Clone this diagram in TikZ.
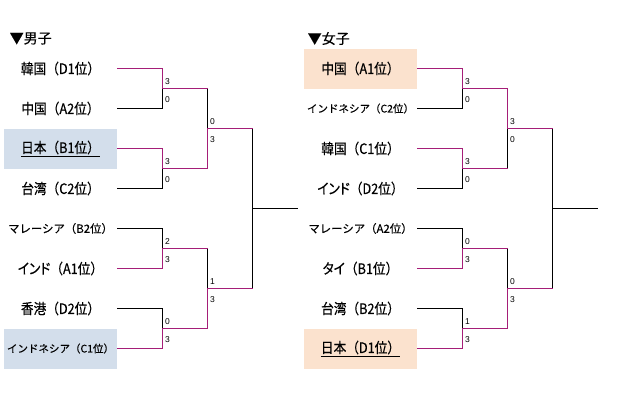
\documentclass[tikz,border=0pt]{standalone}
\usepackage{fontspec}
\setmainfont{Noto Sans CJK JP}
\newfontfamily\teamfont[FakeStretch=0.88,FakeBold=0.4]{Noto Sans CJK JP}
\newfontfamily\kp[RawFeature=+palt,FakeStretch=0.88,FakeBold=0.4]{Noto Sans CJK JP}
\newfontfamily\smallfont[FakeBold=0.3]{Noto Sans CJK JP}
\newfontfamily\numfont{Liberation Sans}
\definecolor{wincol}{RGB}{165,30,120}
\definecolor{bluebg}{RGB}{211,222,235}
\definecolor{peachbg}{RGB}{251,226,206}
\begin{document}
\begin{tikzpicture}[x=1pt,y=-1pt,
  team/.style={inner sep=0pt, minimum width=113pt, minimum height=40pt, font=\teamfont\fontsize{14.4}{15}\selectfont},
  smallteam/.style={team, font=\smallfont\fontsize{11.4}{12}\selectfont},
  tinyteam/.style={team, font=\smallfont\fontsize{10.5}{11}\selectfont},
  title/.style={inner sep=0pt, anchor=west, font=\smallfont\fontsize{14}{15}\selectfont},
  score/.style={inner sep=0pt, font=\numfont\fontsize{8.5}{9}\selectfont},
  lose/.style={draw=black, line width=1pt},
  win/.style={draw=wincol, line width=1pt}]
\useasboundingbox (0,0) rectangle (617,402);
\fill[white] (0,0) rectangle (617,402);
\begin{scope}[shift={(0.5,-0.5)}]
% titles
\node[title] (tm) at (9,39) {▼男子};
\node[title] (tw) at (307,39) {▼女子};

% men teams
\node[team] (m1) at (60,69) {韓国（D1位）};
\node[team] (m2) at (60,109) {中国（A2位）};
\node[team, fill=bluebg] (m3) at (60,149) {\underline{日本（B1位）}};
\node[team] (m4) at (60,189) {台湾（C2位）};
\node[smallteam] (m5) at (60,229) {マレーシア（B2位）};
\node[team] (m6) at (60,269) {{\kp インド}（A1位）};
\node[team] (m7) at (60,309) {香港（D2位）};
\node[tinyteam, fill=bluebg] (m8) at (60,349) {インドネシア（C1位）};

% women teams
\node[team, fill=peachbg] (w1) at (360,69) {中国（A1位）};
\node[tinyteam] (w2) at (360,109) {インドネシア（C2位）};
\node[team] (w3) at (360,149) {韓国（C1位）};
\node[team] (w4) at (360,189) {{\kp インド}（D2位）};
\node[smallteam] (w5) at (360,229) {マレーシア（A2位）};
\node[team] (w6) at (360,269) {{\kp タイ}（B1位）};
\node[team] (w7) at (360,309) {台湾（B2位）};
\node[team, fill=peachbg] (w8) at (360,349) {\underline{日本（D1位）}};

% men coordinates
\coordinate (mA) at (162,89);  \coordinate (mA2) at (207,89);
\coordinate (mB) at (162,169); \coordinate (mB2) at (207,169);
\coordinate (mC) at (162,249); \coordinate (mC2) at (207,249);
\coordinate (mD) at (162,329); \coordinate (mD2) at (207,329);
\coordinate (mE) at (207,129); \coordinate (mE2) at (252,129);
\coordinate (mF) at (207,289); \coordinate (mF2) at (252,289);
\coordinate (mG) at (252,209); \coordinate (mH) at (297,209);
% women coordinates
\coordinate (wA) at (462,89);  \coordinate (wA2) at (507,89);
\coordinate (wB) at (462,169); \coordinate (wB2) at (507,169);
\coordinate (wC) at (462,249); \coordinate (wC2) at (507,249);
\coordinate (wD) at (462,329); \coordinate (wD2) at (507,329);
\coordinate (wE) at (507,129); \coordinate (wE2) at (552,129);
\coordinate (wF) at (507,289); \coordinate (wF2) at (552,289);
\coordinate (wG) at (552,209); \coordinate (wH) at (597,209);

% men losers / final
\draw[lose] (m2.east) -| (mA);
\draw[lose] (m4.east) -| (mB);
\draw[lose] (m5.east) -| (mC);
\draw[lose] (m7.east) -| (mD);
\draw[lose] (mA2) -- (mE);
\draw[lose] (mC2) -- (mF);
\draw[lose] (mE2) -- (mF2);
\draw[lose] (mG) -- (mH);
% men winners
\draw[win] (m1.east) -| (mA) -- (mA2);
\draw[win] (m3.east) -| (mB) -- (mB2);
\draw[win] (m6.east) -| (mC) -- (mC2);
\draw[win] (m8.east) -| (mD) -- (mD2);
\draw[win] (mB2) -- (mE) -- (mE2);
\draw[win] (mD2) -- (mF) -- (mF2);

% women losers / final
\draw[lose] (w2.east) -| (wA);
\draw[lose] (w4.east) -| (wB);
\draw[lose] (w5.east) -| (wC);
\draw[lose] (w7.east) -| (wD);
\draw[lose] (wB2) -- (wE);
\draw[lose] (wC2) -- (wF);
\draw[lose] (wE2) -- (wF2);
\draw[lose] (wG) -- (wH);
% women winners
\draw[win] (w1.east) -| (wA) -- (wA2);
\draw[win] (w3.east) -| (wB) -- (wB2);
\draw[win] (w6.east) -| (wC) -- (wC2);
\draw[win] (w8.east) -| (wD) -- (wD2);
\draw[win] (wA2) -- (wE) -- (wE2);
\draw[win] (wD2) -- (wF) -- (wF2);

% men scores
\node[score] (sA1) at (167,82) {3};  \node[score] (sA2) at (167,100) {0};
\node[score] (sB1) at (167,162) {3}; \node[score] (sB2) at (167,180) {0};
\node[score] (sC1) at (167,242) {2}; \node[score] (sC2) at (167,260) {3};
\node[score] (sD1) at (167,322) {0}; \node[score] (sD2) at (167,340) {3};
\node[score] (sE1) at (212,122) {0}; \node[score] (sE2) at (212,140) {3};
\node[score] (sF1) at (212,282) {1}; \node[score] (sF2) at (212,300) {3};
% women scores
\node[score] (tA1) at (467,82) {3};  \node[score] (tA2) at (467,100) {0};
\node[score] (tB1) at (467,162) {3}; \node[score] (tB2) at (467,180) {0};
\node[score] (tC1) at (467,242) {0}; \node[score] (tC2) at (467,260) {3};
\node[score] (tD1) at (467,322) {1}; \node[score] (tD2) at (467,340) {3};
\node[score] (tE1) at (512,122) {3}; \node[score] (tE2) at (512,140) {0};
\node[score] (tF1) at (512,282) {0}; \node[score] (tF2) at (512,300) {3};
\end{scope}
\end{tikzpicture}
\end{document}
